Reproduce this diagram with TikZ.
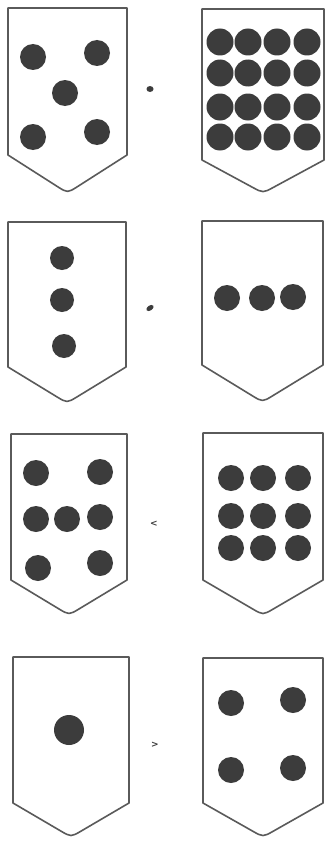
\documentclass[tikz,border=0pt]{standalone}
\usepackage{fontspec}
\newfontfamily\signfont{DejaVu Sans}
\usetikzlibrary{calc}
\definecolor{linec}{HTML}{5A5A5A}
\definecolor{dotc}{HTML}{3C3C3C}
\tikzset{
  shieldline/.style={draw=linec, line width=1.6pt, line join=round},
  dotfill/.style={fill=dotc},
  signtext/.style={text=dotc, font=\signfont\bfseries\small, inner sep=0pt}
}
% #1 left x, #2 right x, #3 top y, #4 side-bottom y, #5 bottom y
\newcommand\myshield[5]{%
  \coordinate (sA) at (#1,#3);
  \coordinate (sB) at (#1,#4);
  \coordinate (sT) at ({(#1+#2)/2},#5);
  \coordinate (sC) at (#2,#4);
  \coordinate (sD) at (#2,#3);
  \draw[shieldline] (sD) -- (sA) -- (sB) -- ($(sT)!12pt!(sB)$)
    .. controls (sT) .. ($(sT)!12pt!(sC)$) -- (sC) -- cycle;
}
\begin{document}
\begin{tikzpicture}[x=1pt,y=-1pt]
\useasboundingbox (0,0) rectangle (328,843);
\fill[white] (0,0) rectangle (328,843);

% row 1
\myshield{8}{127}{8}{155}{193}
\foreach \p in {(33,57),(97,53),(65,93),(33,137),(97,132)}
  \fill[dotfill] \p circle (13pt);
\myshield{202}{324}{9}{160}{193}
\foreach \xx in {220,248,277,307}
  \foreach \yy in {42,73,107,137}
    \fill[dotfill] (\xx,\yy) circle (13.5pt);
\fill[dotfill] (150,89) ellipse (3.5pt and 3pt);

% row 2
\myshield{8}{126}{222}{367}{403}
\foreach \p in {(62,258),(62,300),(64,346)}
  \fill[dotfill] \p circle (12pt);
\myshield{202}{323}{221}{365}{402}
\foreach \p in {(227,298),(262,298),(293,297)}
  \fill[dotfill] \p circle (13pt);
\fill[dotfill, rotate around={35:(150,308)}] (150,308) ellipse (4pt and 2.5pt);

% row 3
\myshield{11}{127}{434}{580}{615}
\foreach \p in {(36,473),(100,472),(36,519),(67,519),(100,517),(38,568),(100,563)}
  \fill[dotfill] \p circle (13pt);
\myshield{203}{323}{433}{580}{615}
\foreach \xx in {231,263,298}
  \foreach \yy in {478,516,548}
    \fill[dotfill] (\xx,\yy) circle (13pt);
\node[signtext] (s3) at (154,524) {<};

% row 4
\myshield{13}{129}{657}{803}{837}
\fill[dotfill] (69,730) circle (15pt);
\myshield{203}{323}{658}{803}{837}
\foreach \p in {(231,703),(293,700),(231,770),(293,768)}
  \fill[dotfill] \p circle (13pt);
\node[signtext] (s4) at (155,745) {>};
\end{tikzpicture}
\end{document}
